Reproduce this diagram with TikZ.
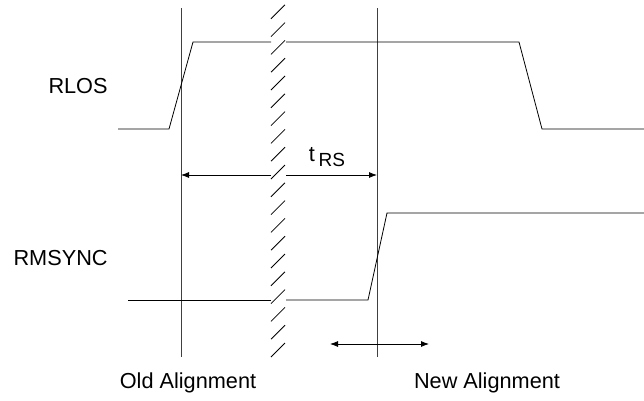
\documentclass[tikz,border=0pt]{standalone}
\usepackage{fontspec}
\setmainfont{Liberation Sans}
\usepackage{tikz}
\usetikzlibrary{arrows.meta}

\begin{document}
\begin{tikzpicture}[x=1pt,y=-1pt,line width=0.8pt,
    sig/.style={line join=miter},
    mark line/.style={black!75},
    dim/.style={-{Latex[length=8pt,width=6pt]}},
    dimboth/.style={{Latex[length=8pt,width=6pt]}-{Latex[length=8pt,width=6pt]}},
    lbl/.style={font=\fontsize{21.7}{26}\selectfont,inner sep=0pt}]
    \useasboundingbox (0,0) rectangle (644,400);
    % labels
    \node[lbl,anchor=east] (rlos) at (108,86) {RLOS};
    \node[lbl,anchor=east] (rmsync) at (108,258) {RMSYNC};
    \node[lbl] (old) at (188,383) {Old Alignment};
    \node[lbl] (new) at (487,383) {New Alignment};
    \node[lbl] (trs) at (327,157) {t\,\raisebox{-5pt}{\fontsize{19}{22}\selectfont RS}};
    % alignment markers
    \coordinate (oldtop) at (181,8);
    \coordinate (oldbot) at (181,357);
    \coordinate (newtop) at (377,8);
    \coordinate (newbot) at (377,357);
    \draw[mark line] (oldtop) -- (oldbot);
    \draw[mark line] (newtop) -- (newbot);
    % time break
    \foreach \k in {0,...,19}
        \draw (271,357-17.8*\k) -- (285,343-17.8*\k);
    % RLOS
    \draw[sig] (118,129) -- (169,129) -- (193,42) -- (271,42);
    \draw[sig] (286,42) -- (519,42) -- (542,129) -- (644,129);
    % RMSYNC
    \draw[sig] (128,300) -- (271,300);
    \draw[sig] (286,300) -- (368,300) -- (387,213) -- (644,213);
    % t_RS
    \coordinate (trsl) at (181,175);
    \coordinate (trsr) at (377,175);
    \coordinate (brkl) at (271,175);
    \coordinate (brkr) at (286,175);
    \draw[dim] (brkl) -- (trsl);
    \draw[dim] (brkr) -- (trsr);
    % window
    \coordinate (winl) at (330,344);
    \coordinate (winr) at (429,344);
    \draw[dimboth] (winl) -- (winr);
\end{tikzpicture}
\end{document}
